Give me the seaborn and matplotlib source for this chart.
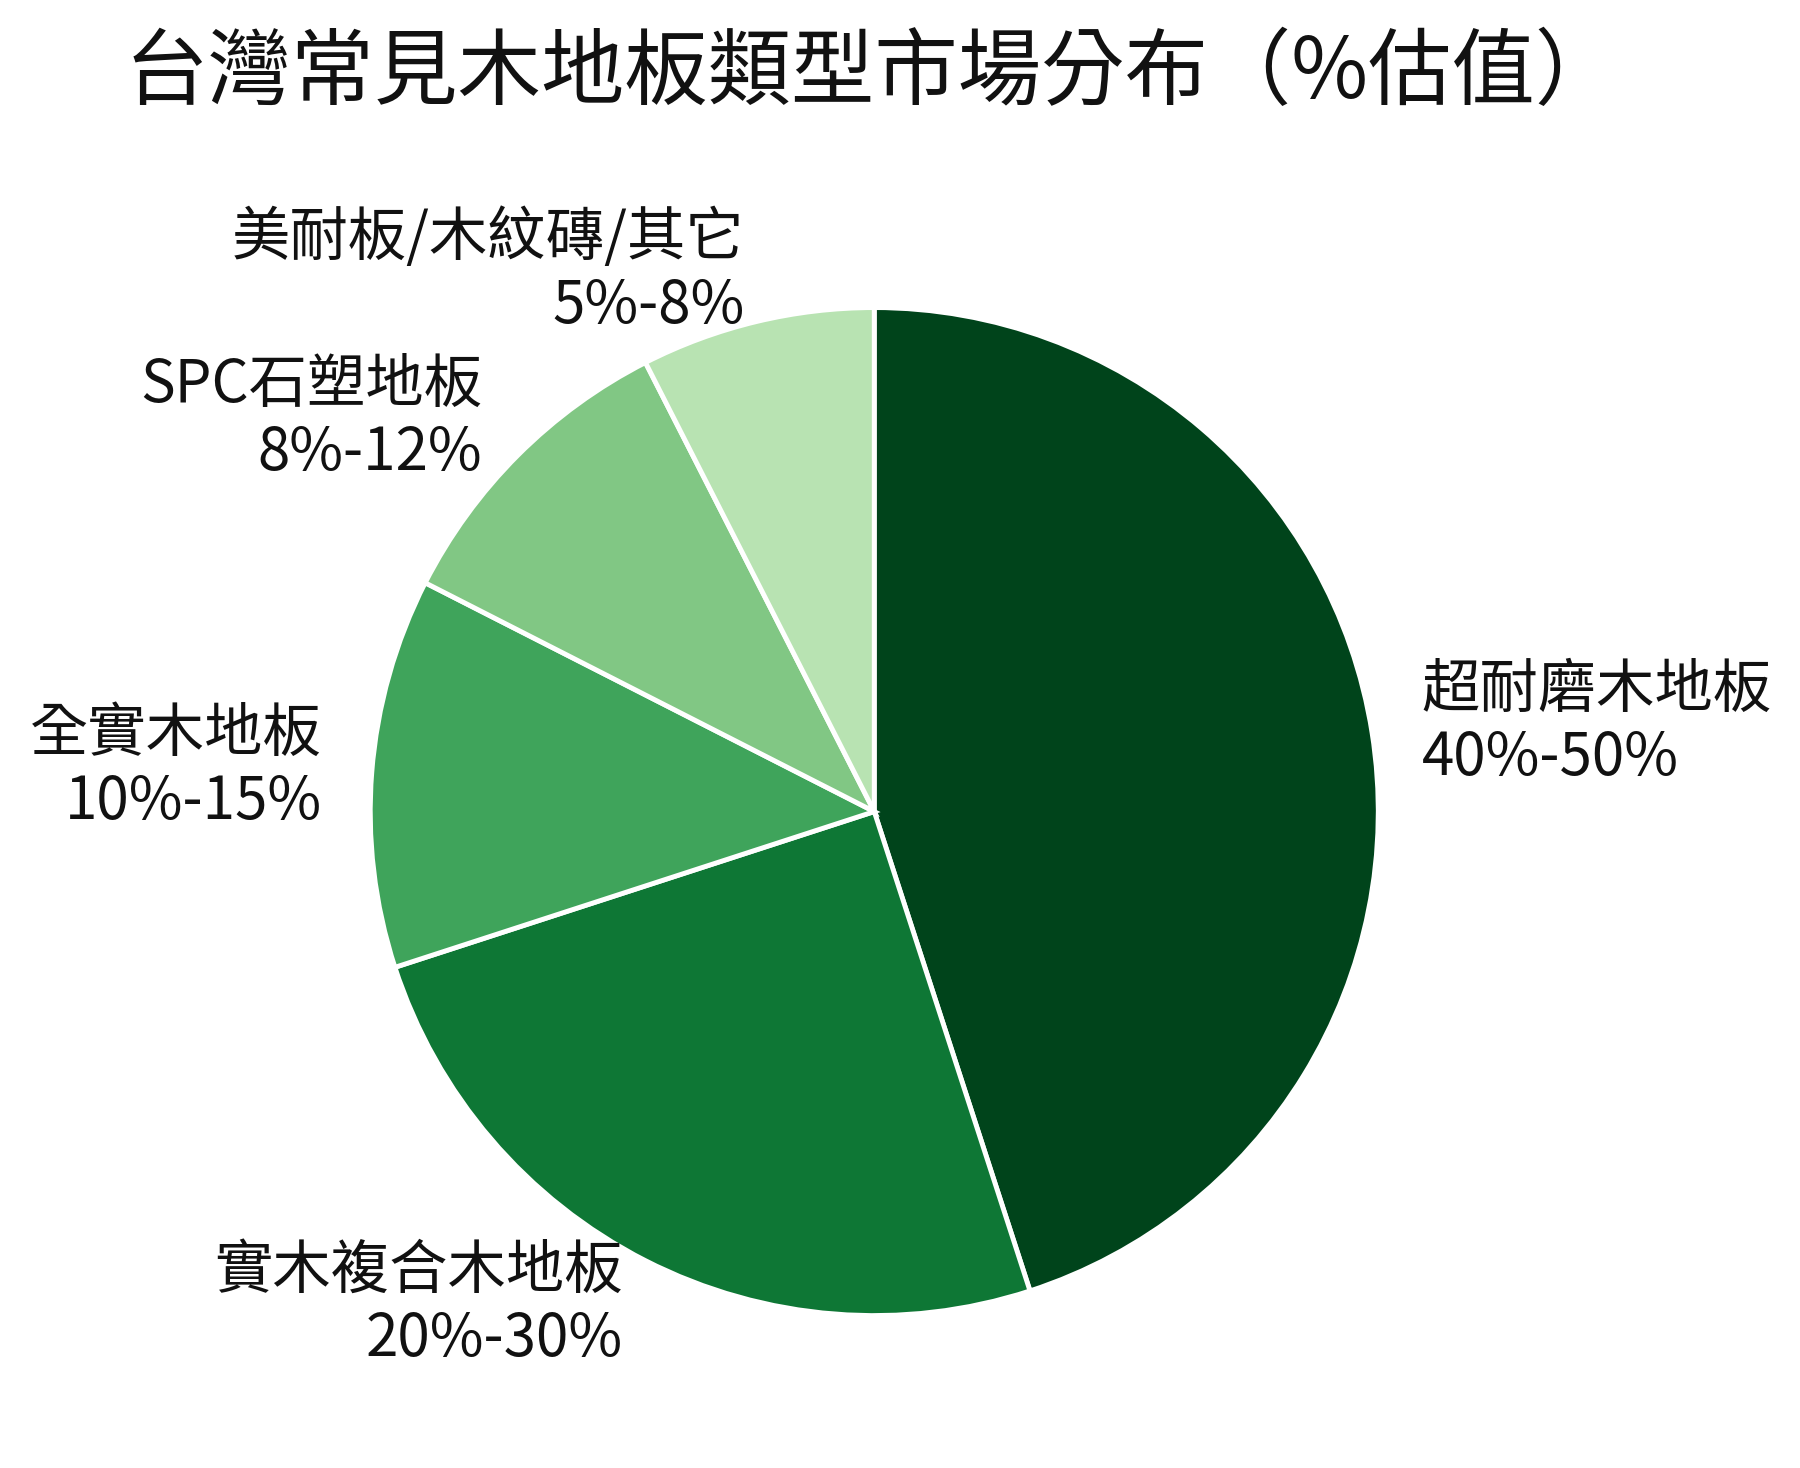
import matplotlib
matplotlib.use("Agg")
import matplotlib.pyplot as plt
import seaborn as sns

sns.set_theme(style="white")
plt.rcParams['font.family'] = ['Noto Sans CJK TC', 'DejaVu Sans']

categories = ["超耐磨木地板", "實木複合木地板", "全實木地板", "SPC石塑地板", "美耐板/木紋磚/其它"]
ranges = ["40%-50%", "20%-30%", "10%-15%", "8%-12%", "5%-8%"]
values = [45, 25, 12.5, 10, 7.5]
colors = ["#00441b", "#0e7735", "#3fa45b", "#81c784", "#b8e3b2"]
title = "台灣常見木地板類型市場分布（%估值）"

fig = plt.figure(figsize=(18, 14.68), dpi=100)
ax = fig.add_axes([0.1357, 0.018, 0.7, 0.8583])
labels = [f"{c}\n{r}" for c, r in zip(categories, ranges)]
wedges, texts = ax.pie(values, labels=labels, colors=colors, startangle=90,
                       counterclock=False, labeldistance=1.1,
                       wedgeprops=dict(edgecolor="white", linewidth=3.5),
                       textprops=dict(fontsize=42, color="#111111"))
for t in texts:
    t.set_linespacing(1.15)
ax.set_aspect("equal")
fig.text(0.4845, 1 - 74 / 1468, title, ha="center", va="center", fontsize=60, color="#111111")
fig.savefig("out.png", dpi=100, facecolor="white")
